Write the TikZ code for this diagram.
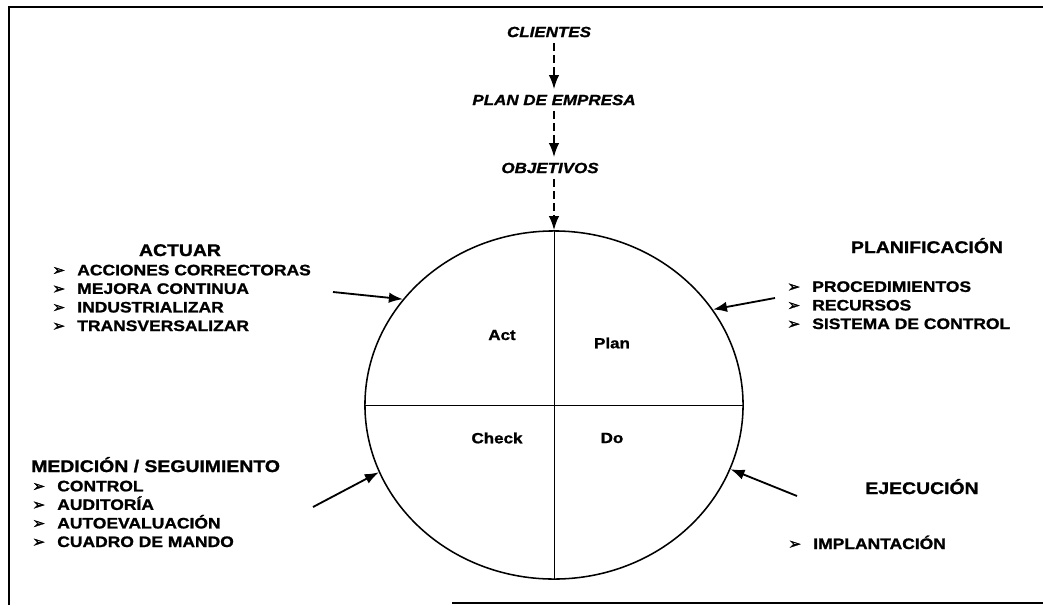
\documentclass[tikz,border=0pt]{standalone}
\usepackage{fontspec}
\setmainfont[FakeStretch=1.15, BoldFeatures={FakeBold=1.2}, BoldItalicFeatures={FakeBold=1.2}]{Liberation Sans}
\newfontfamily\bulletfont[FakeBold=1.5]{DejaVu Sans}
\usetikzlibrary{arrows.meta}
\usetikzlibrary{shapes.geometric}
\def\lw{1.3pt}
\def\bulletgap{0.625cm}
\newcommand\itm[1]{\makebox[\bulletgap][l]{\bulletfont\fontsize{11}{11}\selectfont ➢}#1}
\tikzset{
    heading/.style = {
        font={\fontsize{12}{14}\selectfont\bfseries}, inner sep=0pt, anchor=base
    },
    itemlist/.style = {
        font={\fontsize{10.8}{13.2}\selectfont\bfseries}, align=left, inner sep=0pt, anchor=base west
    },
    flowlabel/.style = {
        font={\fontsize{10.5}{12}\selectfont\bfseries\itshape}, inner sep=0pt, outer sep=4pt
    },
    quarter/.style = {
        font={\fontsize{10.5}{12}\selectfont\bfseries}, inner sep=0pt
    },
    inarrow/.style = {line width=\lw, -{Latex[length=3.5mm,width=2.6mm]}},
    flowarrow/.style = {line width=\lw, dash pattern=on 2mm off 1mm, -{Latex[length=3.5mm,width=2.6mm]}}
    }

\begin{document}
\begin{tikzpicture}[x=0.025cm, y=-0.025cm]
        \useasboundingbox (0,0) rectangle (1043,605);
        % Frame
        \draw[line width=1pt] (9,605) -- (9,7) -- (1043,7);
        \draw[line width=1pt] (452,603) -- (1043,603);
        % The cycle and its quarters
        \node[draw, ellipse, line width=1.1pt, minimum width=9.45cm, minimum height=8.7cm, inner sep=0pt] (cycle) at (554,405) {};
        \draw[line width=0.7pt] (cycle.north) -- (cycle.south);
        \draw[line width=0.7pt] (cycle.west) -- (cycle.east);
        \node[quarter] (act) at (502,335) {Act};
        \node[quarter] (plan) at (612,343) {Plan};
        \node[quarter] (check) at (497,438) {Check};
        \node[quarter] (do) at (612,438) {Do};
        % Flow at the top
        \node[flowlabel] (clientes) at (549,32) {CLIENTES};
        \node[flowlabel] (empresa) at (554,100) {PLAN DE EMPRESA};
        \node[flowlabel] (objetivos) at (550,168) {OBJETIVOS};
        \foreach \a/\b in {clientes/empresa, empresa/objetivos}{
            \draw[flowarrow] (\a.south -| cycle.north) -- (\b.north -| cycle.north);
        }
        \draw[flowarrow] (objetivos.south -| cycle.north) -- (cycle.north);
        % Phases round the cycle (lists sit on their last baseline)
        \node[heading] (actuar) at (180,256) {ACTUAR};
        \node[itemlist] (actuarlist) at (52,331) {\itm{ACCIONES CORRECTORAS}\\\itm{MEJORA CONTINUA}\\\itm{INDUSTRIALIZAR}\\\itm{TRANSVERSALIZAR}};
        \node[heading] (planif) at (927,253) {PLANIFICACIÓN};
        \node[itemlist] (planiflist) at (787,329) {\itm{PROCEDIMIENTOS}\\\itm{RECURSOS}\\\itm{SISTEMA DE CONTROL}};
        \node[heading, anchor=base west] (medicion) at (31,472) {MEDICIÓN / SEGUIMIENTO};
        \node[itemlist] (medicionlist) at (32,547) {\itm{CONTROL}\\\itm{AUDITORÍA}\\\itm{AUTOEVALUACIÓN}\\\itm{CUADRO DE MANDO}};
        \node[heading] (ejecucion) at (922,494) {EJECUCIÓN};
        \node[itemlist] (ejecucionlist) at (788,549) {\itm{IMPLANTACIÓN}};
        % Arrows into the cycle
        \coordinate (actin) at (333,292);
        \coordinate (planin) at (775,298);
        \coordinate (medin) at (313,507);
        \coordinate (ejecin) at (797,496);
        \foreach \src/\ang in {actin/145, planin/31, medin/201, ejecin/340}{
            \draw[inarrow] (\src) -- (cycle.\ang);
        }
    \end{tikzpicture}
\end{document}
